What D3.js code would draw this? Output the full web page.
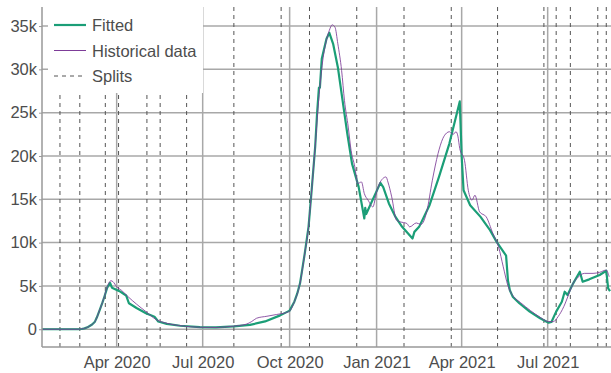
<!DOCTYPE html>
<html><head><meta charset="utf-8">
<script src="https://cdn.jsdelivr.net/npm/d3@7"></script>
<style>body{margin:0;background:#fff;} svg{display:block;font-family:"Liberation Sans",Arial,sans-serif;}</style>
</head><body><svg id="c" width="611" height="373"></svg>
<script>
const historicalDates = ["2020-01-13","2020-02-20","2020-02-24","2020-02-27","2020-03-01","2020-03-03","2020-03-06","2020-03-09","2020-03-11","2020-03-14","2020-03-17","2020-03-19","2020-03-22","2020-03-26","2020-03-28","2020-04-01","2020-04-06","2020-04-13","2020-04-22","2020-05-02","2020-05-13","2020-05-24","2020-06-10","2020-06-28","2020-07-15","2020-08-02","2020-08-16","2020-08-22","2020-08-27","2020-09-07","2020-09-17","2020-09-28","2020-10-01","2020-10-06","2020-10-12","2020-10-17","2020-10-21","2020-10-24","2020-10-28","2020-10-31","2020-11-05","2020-11-09","2020-11-12","2020-11-15","2020-11-18","2020-11-21","2020-11-25","2020-11-28","2020-12-02","2020-12-05","2020-12-09","2020-12-12","2020-12-16","2020-12-19","2020-12-23","2020-12-28","2021-01-01","2021-01-04","2021-01-11","2021-01-13","2021-01-17","2021-01-22","2021-01-26","2021-02-02","2021-02-05","2021-02-12","2021-02-17","2021-02-23","2021-03-01","2021-03-07","2021-03-12","2021-03-16","2021-03-19","2021-03-23","2021-03-26","2021-03-28","2021-03-30","2021-04-04","2021-04-08","2021-04-12","2021-04-15","2021-04-20","2021-04-27","2021-05-04","2021-05-10","2021-05-15","2021-05-20","2021-05-26","2021-06-02","2021-06-13","2021-06-23","2021-07-02","2021-07-07","2021-07-12","2021-07-18","2021-07-23","2021-07-28","2021-08-02","2021-08-09","2021-08-18","2021-08-25","2021-09-01","2021-09-04"];
const historicalValues = [0,0,30,100,220,350,550,875,1350,2220,3100,3756,4900,5600,5500,4900,4500,3760,2900,2030,1100,690,380,230,210,350,580,900,1270,1500,1700,1950,2100,3180,5300,8750,11820,15670,21040,25500,31000,33400,34500,35140,34860,32950,29870,26420,23340,20660,18730,16820,17000,15670,14900,14120,15850,16820,17580,17000,15280,12590,12400,12210,11820,12270,12100,13550,17200,20280,22000,22650,22800,22500,22800,22300,20850,19500,16050,14900,15470,13550,12970,11060,9520,7210,5000,3760,3100,2140,1380,880,880,1450,2600,3950,5300,5990,6450,6450,6570,6830,6060];

const fittedDates = ["2020-01-13","2020-02-20","2020-02-24","2020-02-27","2020-03-01","2020-03-03","2020-03-06","2020-03-09","2020-03-11","2020-03-14","2020-03-17","2020-03-19","2020-03-22","2020-03-25","2020-03-27","2020-04-04","2020-04-11","2020-04-14","2020-04-22","2020-05-02","2020-05-11","2020-05-15","2020-05-24","2020-06-07","2020-06-28","2020-07-15","2020-08-03","2020-08-20","2020-09-05","2020-09-21","2020-10-01","2020-10-06","2020-10-09","2020-10-12","2020-10-17","2020-10-21","2020-10-24","2020-10-28","2020-10-30","2020-11-01","2020-11-02","2020-11-04","2020-11-09","2020-11-12","2020-11-16","2020-11-21","2020-11-26","2020-12-01","2020-12-06","2020-12-13","2020-12-19","2020-12-20","2020-12-21","2021-01-05","2021-01-08","2021-01-14","2021-01-21","2021-01-28","2021-02-08","2021-02-10","2021-02-15","2021-02-26","2021-03-08","2021-03-19","2021-03-30","2021-04-01","2021-04-03","2021-04-10","2021-04-21","2021-05-01","2021-05-08","2021-05-18","2021-05-20","2021-05-22","2021-05-25","2021-06-01","2021-06-12","2021-06-23","2021-07-02","2021-07-05","2021-07-10","2021-07-16","2021-07-19","2021-07-22","2021-07-28","2021-08-04","2021-08-07","2021-08-14","2021-08-25","2021-09-01","2021-09-03","2021-09-05"];
const fittedValues = [0,0,30,100,220,350,550,875,1350,2200,3100,3750,4800,5350,4800,4400,3900,3000,2450,1840,1450,900,620,400,250,220,330,500,900,1600,2150,3180,4100,5300,8750,11820,15670,21040,24880,27900,27900,31220,33530,34220,32950,30250,26420,22580,19120,16430,12790,14000,13300,16900,16400,14520,12970,11820,10480,11240,11820,14320,17580,21430,26300,20000,16050,14320,12970,11440,10090,8500,5600,4500,3760,3000,2030,1270,760,840,2030,3180,4330,3950,5300,6640,5480,5760,6260,6750,4720,4400];

const splitDates = ["2020-02-01","2020-02-22","2020-03-20","2020-04-03","2020-05-03","2020-05-17","2020-06-14","2020-08-03","2020-09-22","2020-10-22","2020-12-11","2021-01-30","2021-03-21","2021-05-09","2021-06-27","2021-07-10","2021-07-25","2021-08-23","2021-09-01"];

const yTickValues = [0,5000,10000,15000,20000,25000,30000,35000];
const yTickLabels = ["0","5k","10k","15k","20k","25k","30k","35k"];
const xTickDates = ["2020-04-01","2020-07-01","2020-10-01","2021-01-01","2021-04-01","2021-07-01"];
const xTickLabels = ["Apr 2020","Jul 2020","Oct 2020","Jan 2021","Apr 2021","Jul 2021"];
const legendLabels = ["Fitted","Historical data","Splits"];

const parse = d3.utcParse("%Y-%m-%d");
const svg = d3.select("#c");
const L = 42, R = 611, T = 7, B = 347;
const x = d3.scaleUtc().domain([parse("2020-01-13"), parse("2021-09-06")]).range([L, R]);
const y = d3.scaleLinear().domain([-2050, 37200]).range([B, T]);

const green = "#1b9e77", purple = "#7d3c98", gridC = "#a8a8a8", textC = "#4d4d4d";

// grid
const g = svg.append("g");
g.selectAll("line.h").data(yTickValues).join("line")
  .attr("x1", L).attr("x2", R).attr("y1", d => y(d)).attr("y2", d => y(d))
  .attr("stroke", gridC).attr("stroke-width", 1.5);
g.selectAll("line.v").data(xTickDates).join("line")
  .attr("x1", d => x(parse(d))).attr("x2", d => x(parse(d))).attr("y1", T).attr("y2", B)
  .attr("stroke", gridC).attr("stroke-width", 1.5);

// splits
svg.append("g").selectAll("line").data(splitDates).join("line")
  .attr("x1", d => x(parse(d))).attr("x2", d => x(parse(d))).attr("y1", T).attr("y2", B)
  .attr("stroke", "#555").attr("stroke-width", 1).attr("stroke-dasharray", "4,4");

// lines
const lineF = d3.line().x(d => x(d[0])).y(d => y(d[1]));
const lineH = d3.line().x(d => x(d[0])).y(d => y(d[1])).curve(d3.curveMonotoneX);
const fitted = fittedDates.map((d, i) => [parse(d), fittedValues[i]]);
const hist = historicalDates.map((d, i) => [parse(d), historicalValues[i]]);
svg.append("path").datum(fitted).attr("d", lineF).attr("fill", "none")
  .attr("stroke", green).attr("stroke-width", 2.2).attr("stroke-linejoin", "round");
svg.append("path").datum(hist).attr("d", lineH).attr("fill", "none")
  .attr("stroke", purple).attr("stroke-width", 1).attr("stroke-opacity", 0.85);

// axes
const yAxis = d3.axisLeft(y).tickValues(yTickValues).tickFormat((d, i) => yTickLabels[i]).tickSize(3).tickPadding(2);
const ya = svg.append("g").attr("transform", `translate(${L},0)`).call(yAxis);
const xAxis = d3.axisBottom(x).tickValues(xTickDates.map(parse)).tickFormat((d, i) => xTickLabels[i]).tickSize(0).tickPadding(9);
const xa = svg.append("g").attr("transform", `translate(0,${B})`).call(xAxis);
[ya, xa].forEach(a => {
  a.select(".domain").attr("stroke", "#999").attr("stroke-width", 1.5);
  a.selectAll(".tick line").attr("stroke", "#999");
  a.selectAll("text").attr("fill", textC).style("font-size", "16.5px").style("font-family", '"Liberation Sans",Arial,sans-serif');
});
ya.select(".domain").attr("d", `M0,${T}V${B}`);
xa.select(".domain").attr("d", `M${L},0H${R}`);

// legend
const lg = svg.append("g");
lg.append("rect").attr("x", 48).attr("y", 5).attr("width", 155).attr("height", 88).attr("fill", "#fff");
const rows = [{c: green, w: 2.2, dash: null}, {c: purple, w: 1, dash: null}, {c: "#555", w: 1, dash: "4,4"}];
rows.forEach((r, i) => {
  const yy = 25 + i * 25.5;
  lg.append("line").attr("x1", 54).attr("x2", 86).attr("y1", yy).attr("y2", yy)
    .attr("stroke", r.c).attr("stroke-width", r.w).attr("stroke-dasharray", r.dash);
  lg.append("text").attr("x", 92).attr("y", yy + 6).text(legendLabels[i])
    .attr("fill", textC).style("font-size", "16.5px");
});
</script></body></html>
